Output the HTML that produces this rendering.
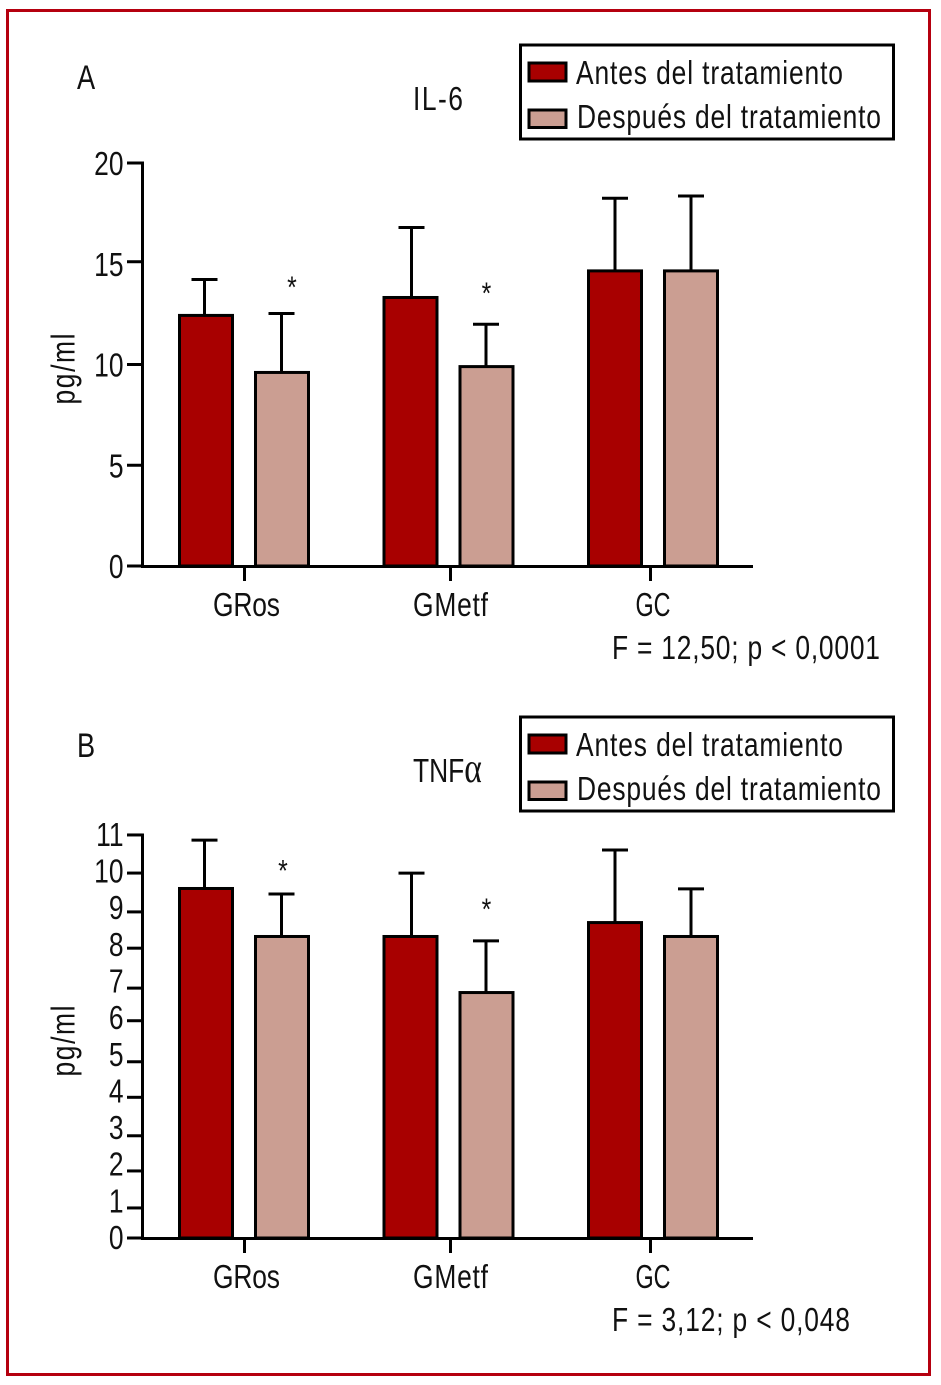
<!DOCTYPE html>
<html lang="es">
<head>
<meta charset="utf-8">
<title>IL-6 y TNFα antes y después del tratamiento</title>
<style>
  html, body { margin: 0; padding: 0; background: #fff; }
  #chart { display: block; }
  text { font-family: "Liberation Sans", Arial, sans-serif; fill: #111; }
</style>
</head>
<body>
<svg id="chart" xmlns="http://www.w3.org/2000/svg" width="941" height="1385" viewBox="0 0 941 1385">
  <rect x="0" y="0" width="941" height="1385" fill="#ffffff"/>
  <rect x="7.5" y="10.5" width="922" height="1364" fill="none" stroke="#b5000f" stroke-width="3"/>
</svg>
<script>
// Shared data
const categories = ["GRos", "GMetf", "GC"];
const seriesNames = ["Antes del tratamiento", "Después del tratamiento"];

// Panel A: IL-6
const il6Before = [12.51, 13.4, 14.72];
const il6After = [9.68, 9.97, 14.72];
const il6BeforeUpper = [14.22, 16.8, 18.25];
const il6AfterUpper = [12.53, 12.0, 18.36];
const il6Stars = [false, true, false, true, false, false];
const il6TickValues = [20, 15.1, 10, 5, 0];
const il6TickLabels = ["20", "15", "10", "5", "0"];

// Panel B: TNF-alpha
const tnfBefore = [9.58, 8.27, 8.65];
const tnfAfter = [8.27, 6.74, 8.27];
const tnfBeforeUpper = [10.86, 9.96, 10.59];
const tnfAfterUpper = [9.39, 8.11, 9.53];
const tnfStars = [false, true, false, true, false, false];
const tnfTickValues = [11, 9.96, 8.9, 7.91, 6.82, 5.93, 4.81, 3.84, 2.79, 1.83, 0.82, 0];
const tnfTickLabels = ["11", "10", "9", "8", "7", "6", "5", "4", "3", "2", "1", "0"];

const SVG_NS = "http://www.w3.org/2000/svg";
const svg = document.getElementById("chart");
const COLORS = ["#a80000", "#cb9e92"];
const SX = 0.8;

function rect(name, x, y, w, h, fill, strokeW) {
  const el = document.createElementNS(SVG_NS, "rect");
  
  
  el.setAttribute("x", x);
  el.setAttribute("y", y);
  el.setAttribute("width", w);
  el.setAttribute("height", h);
  el.setAttribute("fill", fill);
  if (strokeW) {
    el.setAttribute("stroke", "#000");
    el.setAttribute("stroke-width", strokeW);
  }
  svg.appendChild(el);
  return el;
}

function line(name, x1, y1, x2, y2) {
  const el = document.createElementNS(SVG_NS, "line");
  
  
  el.setAttribute("x1", x1);
  el.setAttribute("y1", y1);
  el.setAttribute("x2", x2);
  el.setAttribute("y2", y2);
  el.setAttribute("stroke", "#000");
  el.setAttribute("stroke-width", 3);
  svg.appendChild(el);
  return el;
}

// width = rendered pixel width of the string; anchor = start | middle | end
function label(name, str, x, y, width, anchor, size, rotate) {
  const el = document.createElementNS(SVG_NS, "text");
  
  
  el.textContent = str;
  el.setAttribute("text-anchor", anchor || "start");
  el.setAttribute("font-size", size || 33);
  el.setAttribute("transform", "translate(" + x + "," + y + ")" + (rotate ? " rotate(-90)" : "") + " scale(" + SX + ",1)");
  if (width) {
    el.setAttribute("textLength", width / SX);
    el.setAttribute("lengthAdjust", "spacing");
  }
  svg.appendChild(el);
  return el;
}

function drawPanel(cfg) {
  const prefix = cfg.prefix;
  const dy = cfg.dy;
  const y0 = 566 + dy;
  const y = function (v) { return y0 - v * cfg.pxPerUnit; };
  const barX = function (g, s) { return 206 + g * 204.5 + s * 76; };
  const tickNudge = [-0.5, 2.5, -0.5];
  const tickX = function (g) { return 245 + g * 203 + tickNudge[g]; };
  const stemNudge = [-1.5, -0.5, 1, -0.5, 0, 0];

  // panel letter and title
  label(prefix + "-panel-letter", cfg.letter, 77, cfg.letterY, null, "start", 34);
  const title = label(prefix + "-title", cfg.title, 413, 110 + dy, cfg.titleWidth, "start");
  if (cfg.titleSymbol) {
    const sym = document.createElementNS(SVG_NS, "tspan");
    
    
    sym.textContent = cfg.titleSymbol;
    sym.setAttribute("font-size", 42);
    sym.setAttribute("style", 'font-family:"Liberation Serif",serif');
    title.appendChild(sym);
  }

  // y axis and ticks
  line(prefix + "-y-axis", 142.5, y(cfg.tickValues[0]) - 1.5, 142.5, y0 + 1.5);
  cfg.tickValues.forEach(function (v, i) {
    const txt = cfg.tickLabels[i];
    line(prefix + "-y-tick-" + txt, 127, y(v), 142.5, y(v));
    label(prefix + "-y-tick-label-" + txt, txt, 123.5, y(Number(txt)) + cfg.labelDy, null, "end");
  });

  // y axis title
  label(prefix + "-y-axis-title", "pg/ml", 74.5, 369 + dy, 71, "middle", 33, true);

  // bars and error bars
  const series = [cfg.before, cfg.after];
  const uppers = [cfg.beforeUpper, cfg.afterUpper];
  categories.forEach(function (cat, g) {
    series.forEach(function (vals, s) {
      const cx = barX(g, s);
      const sx = cx + stemNudge[g * 2 + s];
      const top = y(uppers[s][g]);
      const tag = prefix + "-" + cat.toLowerCase() + "-" + (s === 0 ? "antes" : "despues");
      line(tag + "-error-stem", sx, top, sx, y(vals[g]) + 1);
      line(tag + "-error-cap", sx - 13, top, sx + 13, top);
      const t = y(vals[g]) + 1.5;
      rect(tag + "-bar", cx - 26.5, t, 53, y0 - t, COLORS[s], 3);
      if (cfg.stars[g * 2 + s]) {
        label(tag + "-significance-star", "*", cx + cfg.starDx[g], top - cfg.starGap[g], null, "middle", 31);
      }
    });
  });

  // x axis, ticks, labels
  line(prefix + "-x-axis", 141, y0 + 0.5, 753, y0 + 0.5);
  const catWidths = [67, 75, null];
  const catOffsets = [2, 0, 2.5];
  categories.forEach(function (cat, g) {
    line(prefix + "-x-tick-" + cat.toLowerCase(), tickX(g), y0, tickX(g), y0 + 15);
    const catLabel = label(prefix + "-x-label-" + cat.toLowerCase(), cat, tickX(g) + catOffsets[g], 616 + dy, catWidths[g], "middle");
    if (catWidths[g] === null) {
      catLabel.setAttribute("textLength", 35 / SX);
      catLabel.setAttribute("lengthAdjust", "spacingAndGlyphs");
    }
  });

  // statistic annotation
  label(prefix + "-statistic", cfg.stat, 612, 659 + dy, cfg.statWidth, "start");

  // legend
  rect(prefix + "-legend-box", 520.5, 45 + dy, 373, 94, "#ffffff", 3);
  rect(prefix + "-legend-swatch-antes", 529, 63 + dy, 37, 18, COLORS[0], 3);
  rect(prefix + "-legend-swatch-despues", 529, 110 + dy, 37, 17.5, COLORS[1], 3);
  label(prefix + "-legend-label-antes", seriesNames[0], 576, 84 + dy, 267, "start");
  label(prefix + "-legend-label-despues", seriesNames[1], 577, 128 + dy, 304, "start");
}

drawPanel({
  prefix: "il6", letter: "A", letterY: 89, title: "IL-6", titleWidth: 50, dy: 0, pxPerUnit: 20.15, labelDy: 12,
  before: il6Before, after: il6After, beforeUpper: il6BeforeUpper, afterUpper: il6AfterUpper,
  stars: il6Stars, starDx: [10, 0, 0], starGap: [16, 20.5, 0],
  tickValues: il6TickValues, tickLabels: il6TickLabels,
  stat: "F = 12,50; p < 0,0001", statWidth: 268
});

drawPanel({
  prefix: "tnf", letter: "B", letterY: 757, title: "TNF", titleSymbol: "α", titleWidth: null, dy: 672, pxPerUnit: 36.64, labelDy: 11,
  before: tnfBefore, after: tnfAfter, beforeUpper: tnfBeforeUpper, afterUpper: tnfAfterUpper,
  stars: tnfStars, starDx: [1, 0, 0], starGap: [13, 21.5, 0],
  tickValues: tnfTickValues, tickLabels: tnfTickLabels,
  stat: "F = 3,12; p < 0,048", statWidth: 238
});
</script>
</body>
</html>
